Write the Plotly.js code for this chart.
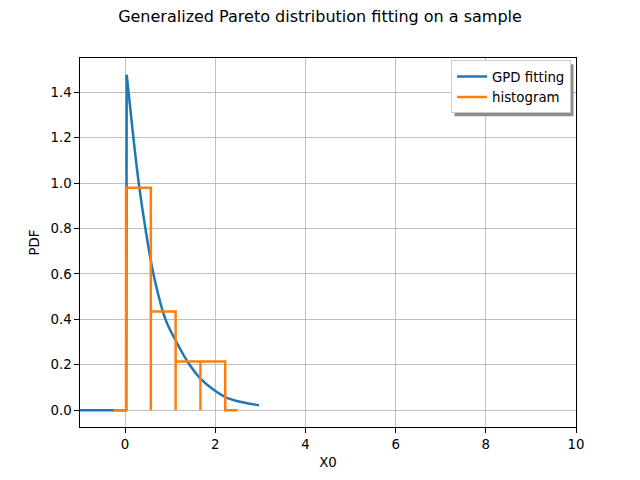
<!DOCTYPE html>
<html>
<head>
<meta charset="utf-8">
<script src="https://cdn.plot.ly/plotly-3.0.1.min.js"></script>
<style>html,body{margin:0;padding:0;background:#fff;}#chart{width:640px;height:480px;}</style>
</head>
<body>
<div id="chart"></div>
<script>
// GPD fitted PDF
const gpdX = [-1, 0.025, 0.036, 0.184, 0.303, 0.451, 0.629, 0.896, 1.121, 1.43, 1.671, 1.95, 2.221, 2.6, 2.97];
const gpdY = [0, 0, 1.477, 1.2, 1.0, 0.8, 0.6, 0.4, 0.307, 0.2, 0.139, 0.092, 0.058, 0.035, 0.022];

// Histogram bins
const binEdges = [0.021, 0.571, 1.121, 1.671, 2.221];
const binHeights = [0.98, 0.435, 0.215, 0.215];

// Build the histogram polyline (OpenTURNS style)
const hx = [], hy = [];
const halfW = (binEdges[1] - binEdges[0]) / 2;
hx.push(binEdges[0] - halfW); hy.push(0);
for (let i = 0; i < binHeights.length; i++) {
  hx.push(binEdges[i]); hy.push(0);
  hx.push(binEdges[i]); hy.push(binHeights[i]);
  hx.push(binEdges[i + 1]); hy.push(binHeights[i]);
  hx.push(binEdges[i + 1]); hy.push(0);
}
hx.push(binEdges[binEdges.length - 1] + halfW); hy.push(0);

const font = {family: 'DejaVu Sans', size: 13.33, color: '#000'};
const blue = '#1f77b4', orange = '#ff7f0e';

const traces = [
  {x: gpdX.slice(0, 3), y: gpdY.slice(0, 3), type: 'scatter', mode: 'lines',
   name: 'GPD fitting', legendgroup: 'gpd', showlegend: false,
   line: {color: blue, width: 2.5}},
  {x: gpdX.slice(2), y: gpdY.slice(2), type: 'scatter', mode: 'lines',
   name: 'GPD fitting', legendgroup: 'gpd',
   line: {color: blue, width: 2.5, shape: 'spline', smoothing: 1}},
  {x: hx, y: hy, type: 'scatter', mode: 'lines', name: 'histogram',
   line: {color: orange, width: 2.5}}
];

const axisCommon = {
  showline: true, mirror: true, linecolor: '#000', linewidth: 1,
  ticks: 'outside', ticklen: 4.7, tickwidth: 1, tickcolor: '#000',
  showgrid: true, gridcolor: '#b0b0b0', gridwidth: 0.8,
  zeroline: false, tickfont: font
};

const PL = 80, PT = 57.6, PW = 496, PH = 369.6;
const legTop = 60, legRight = 571;

const layout = {
  width: 640, height: 480,
  margin: {l: 80, r: 64, t: 58, b: 53},
  paper_bgcolor: '#fff', plot_bgcolor: '#fff',
  font: font,
  title: {text: 'Generalized Pareto distribution fitting on a sample',
          font: {family: 'DejaVu Sans', size: 16, color: '#000'},
          x: 0.5, xanchor: 'center', y: 0.965, yanchor: 'middle'},
  xaxis: Object.assign({}, axisCommon, {
    range: [-1, 10], tickvals: [0, 2, 4, 6, 8, 10],
    title: {text: 'X0', font: font, standoff: 6}
  }),
  yaxis: Object.assign({}, axisCommon, {
    range: [-0.0739, 1.551], tickvals: [0, 0.2, 0.4, 0.6, 0.8, 1.0, 1.2, 1.4],
    ticktext: ['0.0', '0.2', '0.4', '0.6', '0.8', '1.0', '1.2', '1.4'],
    title: {text: 'PDF', font: font, standoff: 7}
  }),
  showlegend: true,
  legend: {
    x: (legRight - PL) / PW, xanchor: 'right', y: (PT + PH - legTop) / PH, yanchor: 'top',
    bgcolor: '#fff', bordercolor: '#cccccc', borderwidth: 1,
    font: font, itemwidth: 30, tracegroupgap: 0
  }
};

const gd = document.getElementById('chart');
Plotly.newPlot(gd, traces, layout, {staticPlot: true, displayModeBar: false}).then(function () {
  const bg = gd.querySelector('.legend .bg');
  if (!bg) return;
  const r = bg.getBoundingClientRect();
  const c = gd.getBoundingClientRect();
  const left = r.left - c.left, right = r.right - c.left;
  const top = r.top - c.top, bottom = r.bottom - c.top;
  const off = 3;
  return Plotly.relayout(gd, {shapes: [{
    type: 'rect', xref: 'paper', yref: 'paper', layer: 'above',
    x0: (left + off - PL) / PW, x1: (right + off - PL) / PW,
    y0: (PT + PH - (bottom + off)) / PH, y1: (PT + PH - (top + off)) / PH,
    fillcolor: '#8c8c8c', line: {width: 0}
  }]});
});
</script>
</body>
</html>
